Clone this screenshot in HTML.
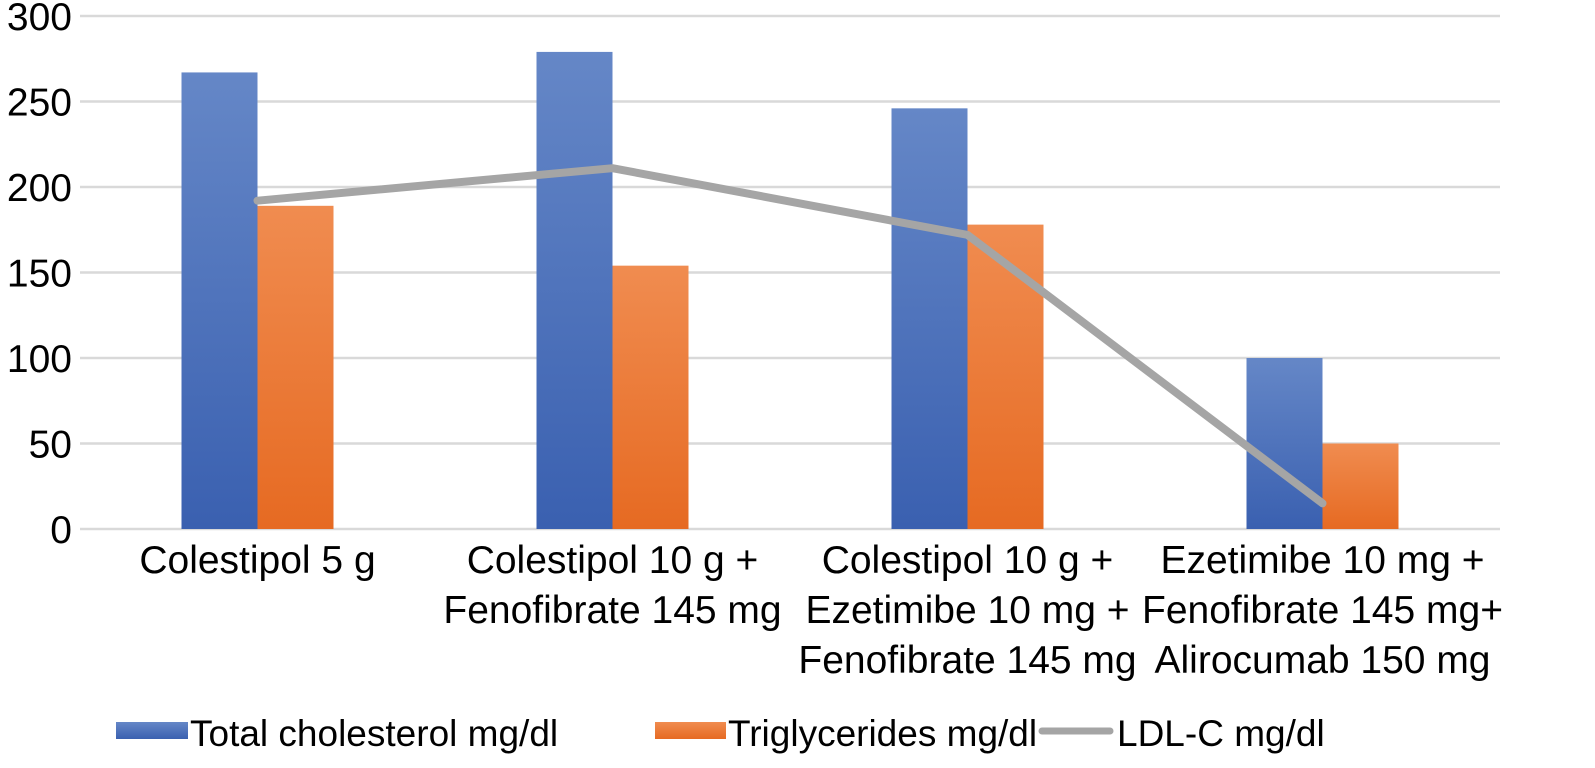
<!DOCTYPE html>
<html><head><meta charset="utf-8"><style>
body{margin:0;background:#fff;}
svg text{font-family:"Liberation Sans",sans-serif;fill:#000;}
</style></head><body>
<svg width="1595" height="763">
<defs>
<linearGradient id="gb" x1="0" y1="0" x2="0" y2="1"><stop offset="0" stop-color="#6587c7"/><stop offset="1" stop-color="#3a60b0"/></linearGradient>
<linearGradient id="go" x1="0" y1="0" x2="0" y2="1"><stop offset="0" stop-color="#f08c50"/><stop offset="1" stop-color="#e66a22"/></linearGradient>
</defs>
<g id="grid"></g><g id="bars"></g><g id="line"></g><g id="xl"></g>
<g>
<rect x="116" y="722" width="72" height="17" fill="url(#gb)"/>
<text x="190" y="746" font-size="37">Total cholesterol mg/dl</text>
<rect x="655" y="722" width="71" height="17" fill="url(#go)"/>
<text x="728" y="746" font-size="37">Triglycerides mg/dl</text>
<line x1="1042" y1="731" x2="1110" y2="731" stroke="#a5a5a5" stroke-width="7" stroke-linecap="round"/>
<text x="1117" y="746" font-size="37">LDL-C mg/dl</text>
</g>
</svg>
<script>
const categories=[["Colestipol 5 g"],["Colestipol 10 g +","Fenofibrate 145 mg"],["Colestipol 10 g +","Ezetimibe 10 mg +","Fenofibrate 145 mg"],["Ezetimibe 10 mg +","Fenofibrate 145 mg+","Alirocumab 150 mg"]];
const totalChol=[267,279,246,100];
const triglycerides=[189,154,178,50];
const ldl=[192,211,172,15];
const yTicks=[0,50,100,150,200,250,300];
const NS="http://www.w3.org/2000/svg";
const x0=80,x1=1500,y0=529,yTop=16,yMax=300;
const y=v=>y0-(v/yMax)*(y0-yTop);
const bw=(x1-x0)/categories.length;
const cx=i=>x0+bw*(i+0.5);
function mk(t,a,p){const e=document.createElementNS(NS,t);for(const k in a)e.setAttribute(k,a[k]);p.appendChild(e);return e;}
const g=document.getElementById('grid');
yTicks.forEach(v=>{
 const l=mk('line',{x1:x0,x2:x1,y1:y(v),y2:y(v),stroke:'#d9d9d9','stroke-width':2.5},g);
 
 
 const t=mk('text',{x:72,y:y(v)+14,'font-size':39,'text-anchor':'end'},g);
 t.textContent=v;
 
 
});
const b=document.getElementById('bars');const w=76;
categories.forEach((c,i)=>{
 const r1=mk('rect',{x:cx(i)-w,y:y(totalChol[i]),width:w,height:y0-y(totalChol[i]),fill:'url(#gb)'},b);
 
 
 const r2=mk('rect',{x:cx(i),y:y(triglycerides[i]),width:w,height:y0-y(triglycerides[i]),fill:'url(#go)'},b);
 
 
 const xl=document.getElementById('xl');
 c.forEach((s,j)=>{const t=mk('text',{x:cx(i),y:573+j*50,'font-size':39,'text-anchor':'middle'},xl);t.textContent=s;
 
 });
});
const pl=mk('polyline',{points:ldl.map((v,i)=>cx(i)+','+y(v)).join(' '),fill:'none',stroke:'#a5a5a5','stroke-width':8,'stroke-linecap':'round','stroke-linejoin':'round'},document.getElementById('line'));


</script>
</body></html>
